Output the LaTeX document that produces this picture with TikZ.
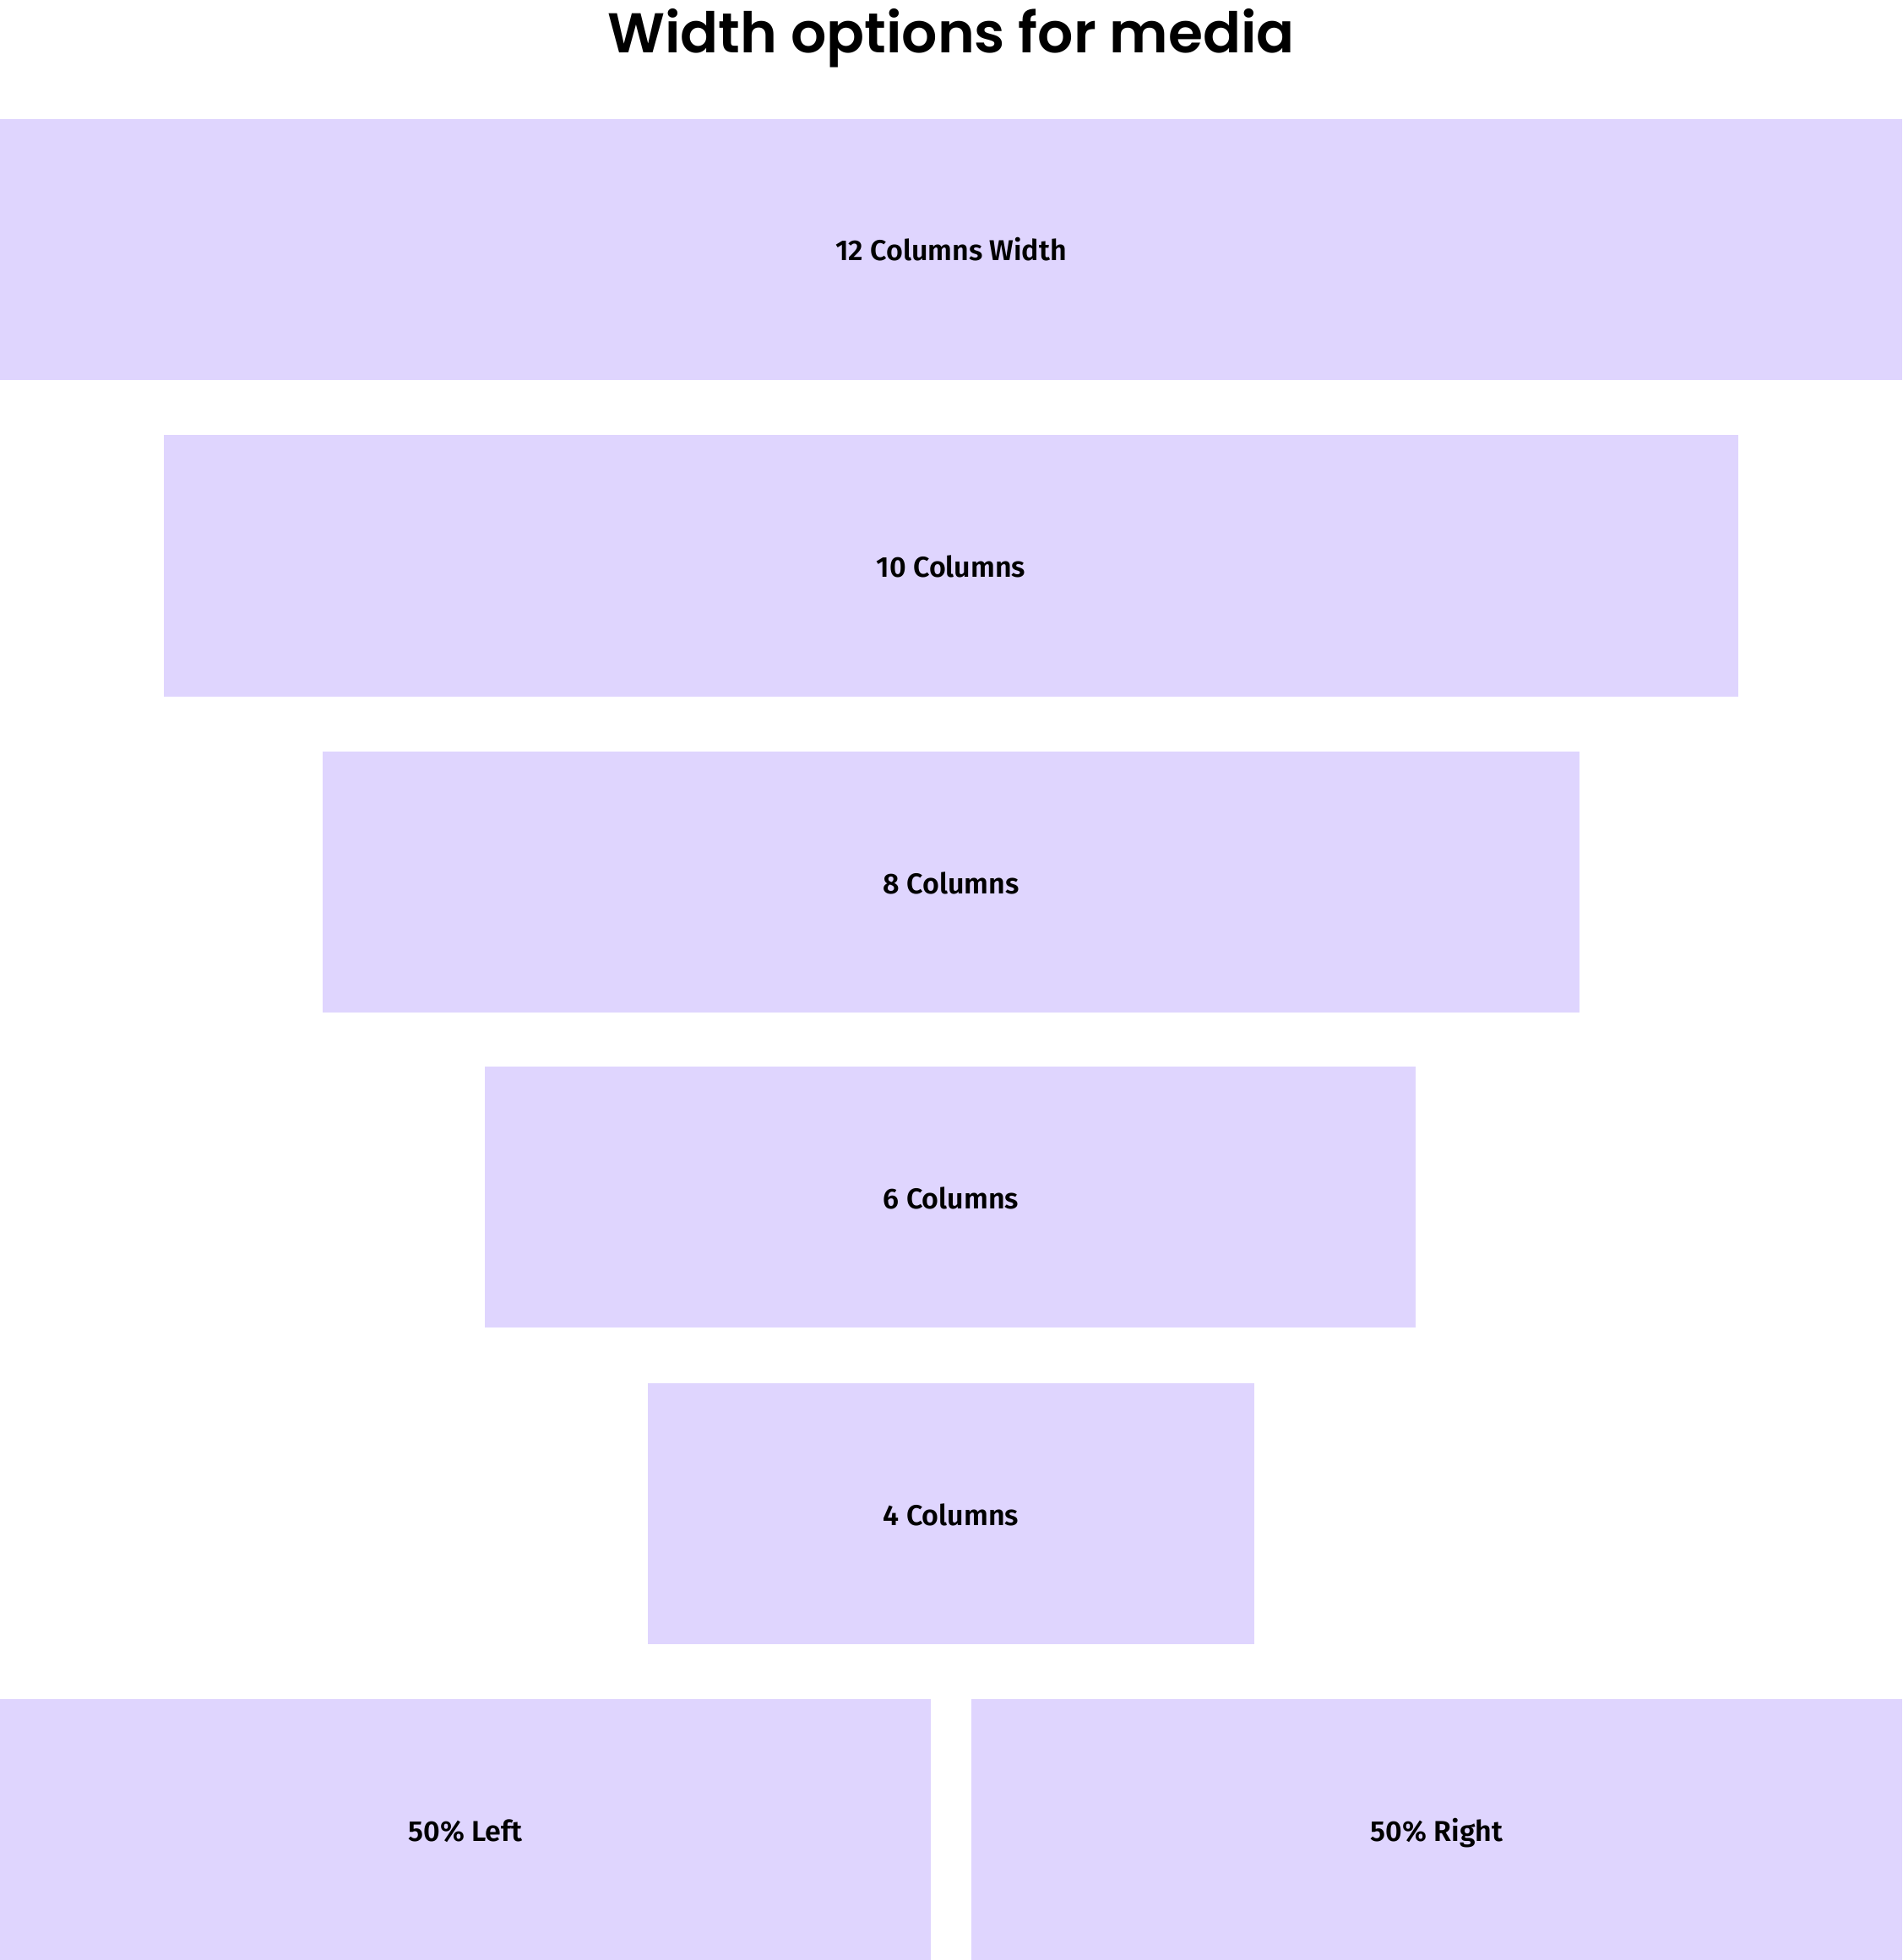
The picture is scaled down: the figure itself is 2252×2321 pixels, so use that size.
\documentclass[tikz,border=0pt]{standalone}
\usepackage{fontspec}
\newfontfamily\titlefont{Poppins SemiBold}
\newfontfamily\labelfont{Fira Sans SemiBold}
\definecolor{boxfill}{HTML}{DFD5FE}
\begin{document}
\begin{tikzpicture}[x=0.25pt,y=-0.25pt,
  mbox/.style={fill=boxfill,draw=none,inner sep=0pt,outer sep=0pt},
  mlabel/.style={font=\labelfont\fontsize{8.5}{10}\selectfont,text=black,inner sep=0pt,anchor=base},
  titletext/.style={font=\titlefont\fontsize{16.6}{20}\selectfont,text=black,inner sep=0pt,anchor=base}]
\useasboundingbox[fill=white] (0,0) rectangle (2252,2321);
\node[titletext] (title) at (1126,63) {Width options for media};
\path[mbox] (0,141) rectangle (2252,450);
\path[mbox] (194,515) rectangle (2058,825);
\path[mbox] (382,890) rectangle (1870,1199);
\path[mbox] (574,1263) rectangle (1676,1572);
\path[mbox] (767,1638) rectangle (1485,1947);
\path[mbox] (0,2012) rectangle (1102,2321);
\path[mbox] (1150,2012) rectangle (2252,2321);
\node[mlabel] (l12) at (1126,309) {12 Columns Width};
\node[mlabel] (l10) at (1126,683) {10 Columns};
\node[mlabel] (l8) at (1126,1058) {8 Columns};
\node[mlabel] (l6) at (1126,1431) {6 Columns};
\node[mlabel] (l4) at (1126,1806) {4 Columns};
\node[mlabel] (lL) at (551,2180) {50\% Left};
\node[mlabel] (lR) at (1701,2180) {50\% Right};
\end{tikzpicture}
\end{document}
